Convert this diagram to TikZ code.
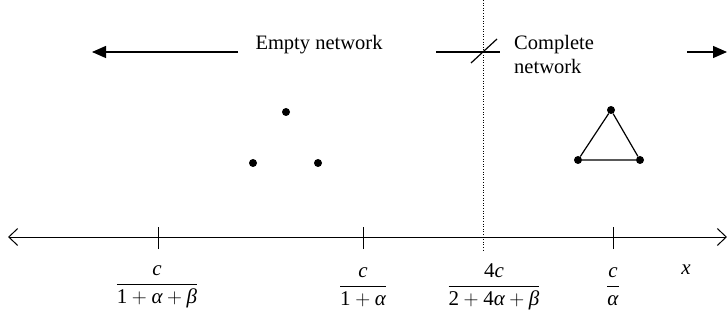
\documentclass[tikz,border=0pt]{standalone}
\usepackage{amsmath}
\usepackage{fontspec}
\setmainfont{Liberation Serif}
\usetikzlibrary{arrows.meta}
\newcommand{\vi}[1]{\textit{#1}}
\tikzset{
  lbl/.style={font=\fontsize{20.5}{24}\selectfont, inner sep=0pt},
  mlbl/.style={font=\fontsize{21}{25}\selectfont, inner sep=0pt},
  dot/.style={circle, fill=black, inner sep=0pt, minimum size=8pt},
  axisline/.style={line width=1pt},
  tick/.style={line width=1pt},
  toparrow/.style={line width=1.2pt, -{Triangle[length=14pt,width=12pt]}},
}
\begin{document}
\begin{tikzpicture}[x=1pt,y=-1pt]
\useasboundingbox (0,0) rectangle (727,320);
% axis
\coordinate (axL) at (8,237);
\coordinate (axR) at (727,237);
\draw[axisline, {Straight Barb[length=9pt,width=17pt]}-{Straight Barb[length=9pt,width=17pt]}] (axL) -- (axR);
% ticks
\coordinate (t1) at (158,237);
\coordinate (t2) at (363,237);
\coordinate (t3) at (613,237);
\foreach \t in {t1,t2,t3} \draw[tick] ([yshift=-12pt]\t) -- ([yshift=10pt]\t);
% dotted separator
\coordinate (dtop) at (483,0);
\coordinate (dbot) at (483,252);
\draw[dotted, line width=0.6pt] (dtop) -- (dbot);
% labels
\node[mlbl] (f1) at (157,287) {$\dfrac{\vi{c}}{\text{1}+\vi{α}+\vi{β}}$};
\node[mlbl] (f2) at (363,287) {$\dfrac{\vi{c}}{\text{1}+\vi{α}}$};
\node[mlbl] (f3) at (494,287) {$\dfrac{\text{4}\vi{c}}{\text{2}+\text{4}\vi{α}+\vi{β}}$};
\node[mlbl] (f4) at (613,287) {$\dfrac{\vi{c}}{\vi{α}}$};
\node[mlbl] (xl) at (686,270) {\vi{x}};
% top
\node[lbl] (empty) at (319,45) {Empty network};
\node[lbl, anchor=north west, align=left] (complete) at (514,35) {Complete\\network};
\coordinate (la1) at (238,52);
\coordinate (la2) at (92,52);
\draw[toparrow] (la1) -- (la2);
\coordinate (ra1) at (687,52);
\coordinate (ra2) at (727,52);
\draw[toparrow] (ra1) -- (ra2);
\coordinate (m1) at (436,52);
\coordinate (m2) at (500,52);
\draw[line width=1.2pt] (m1) -- (m2);
\coordinate (s1) at (471,63);
\coordinate (s2) at (497,39);
\draw[line width=1.2pt] (s1) -- (s2);
% empty network dots
\node[dot] (e1) at (286,112) {};
\node[dot] (e2) at (253,163) {};
\node[dot] (e3) at (318,163) {};
% complete network
\node[dot] (c1) at (611,110) {};
\node[dot] (c2) at (578,160) {};
\node[dot] (c3) at (640,160) {};
\draw[line width=1.2pt] (c1) -- (c2) -- (c3) -- (c1);
\end{tikzpicture}
\end{document}
